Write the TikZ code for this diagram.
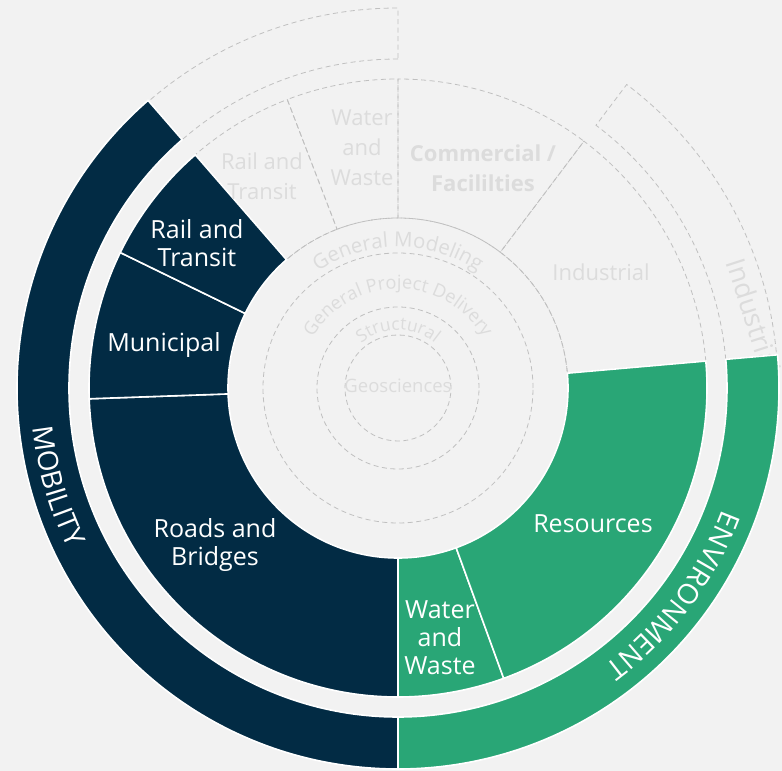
\documentclass[tikz,border=0pt]{standalone}
\usepackage{fontspec}
\setmainfont{Open Sans}
\usetikzlibrary{decorations.text}
\definecolor{Page}{HTML}{F2F2F2}
\definecolor{Navy}{HTML}{022B44}
\definecolor{Jade}{HTML}{29A676}
\definecolor{Ghost}{HTML}{DCDCDC}
\definecolor{Dash}{HTML}{C0C0C0}
\newcommand{\ringpart}[5][]{%
  \path[#1] (#2:#4) arc[start angle=#2, end angle=#3, radius=#4]
    -- (#3:#5) arc[start angle=#3, end angle=#2, radius=#5] -- cycle;}

\begin{document}
\begin{tikzpicture}[x=1pt,y=1pt,
    seg/.style={draw=white,line width=1.6pt},
    ghost/.style={draw=Dash,line width=0.8pt,dash pattern=on 5pt off 3.5pt},
    lab/.style={text=white,font=\fontsize{25}{28}\selectfont,align=center},
    ghostlab/.style={text=Ghost,font=\fontsize{22}{30}\selectfont,align=center},
    bandtext/.style={decorate,decoration={text along path,text align=center}}]
  \clip (-398,-383) rectangle (384,388);
  \fill[Page] (-398,-383) rectangle (384,388);
  \foreach \r in {53,81,135,170}
    \draw[ghost] (0,0) circle[radius=\r];
  \ringpart[ghost]{5}{53}{170}{309}
  \ringpart[ghost]{53}{90}{170}{309}
  \ringpart[ghost]{90}{111}{170}{309}
  \ringpart[ghost]{111}{131}{170}{309}
  \ringpart[ghost]{90}{131}{329}{380}
  \ringpart[ghost]{5}{53}{329}{380}
  \node[ghostlab,font=\fontsize{27}{30}\selectfont,rotate=-72] (industryBand) at (356,72) {Industrial};
  \ringpart[seg,fill=Navy]{182}{270}{170}{309}
  \ringpart[seg,fill=Navy]{154}{182}{170}{309}
  \ringpart[seg,fill=Navy]{131}{154}{170}{309}
  \ringpart[seg,fill=Jade]{-90}{-70}{170}{309}
  \ringpart[seg,fill=Jade]{-70}{5}{170}{309}
  \ringpart[seg,fill=Navy]{131}{270}{329}{381}
  \ringpart[seg,fill=Jade]{-90}{5}{329}{381}
  \node[lab] (roads) at (-183,-157) {Roads and\\Bridges};
  \node[lab] (municipal) at (-234,43) {Municipal};
  \node[lab] (rail) at (-201,145) {Rail and\\Transit};
  \node[lab] (water) at (42,-250) {Water\\and\\Waste};
  \node[lab] (resources) at (195,-136) {Resources};
  \node[ghostlab] (railGhost) at (-136,212) {Rail and\\Transit};
  \node[ghostlab] (waterGhost) at (-36,240) {Water\\and\\Waste};
  \node[ghostlab,font=\bfseries\fontsize{22}{30}\selectfont] (commercial) at (85,220) {Commercial /\\Facililties};
  \node[ghostlab] (industrial) at (203,116) {Industrial};
  \node[ghostlab,font=\fontsize{18.5}{20}\selectfont] (geo) at (0,2) {Geosciences};
  \path[bandtext,decoration={text={|\color{white}\fontsize{28}{30}\selectfont|MOBILITY}}]
    (146:367) arc[start angle=146, end angle=246, radius=367];
  \path[bandtext,decoration={text={|\color{white}\fontsize{28}{30}\selectfont|ENVIRONMENT}}]
    (13:346) arc[start angle=13, end angle=-87, radius=346];
  \path[bandtext,decoration={text={|\color{Ghost}\fontsize{20.5}{22}\selectfont|General Modeling}}]
    (160:141) arc[start angle=160, end angle=20, radius=141];
  \path[bandtext,decoration={text={|\color{Ghost}\fontsize{18.3}{20}\selectfont|General Project Delivery}}]
    (180:99) arc[start angle=180, end angle=0, radius=99];
  \path[bandtext,decoration={text={|\color{Ghost}\fontsize{17.4}{19}\selectfont|Structural}}]
    (180:58) arc[start angle=180, end angle=0, radius=58];
\end{tikzpicture}
\end{document}
